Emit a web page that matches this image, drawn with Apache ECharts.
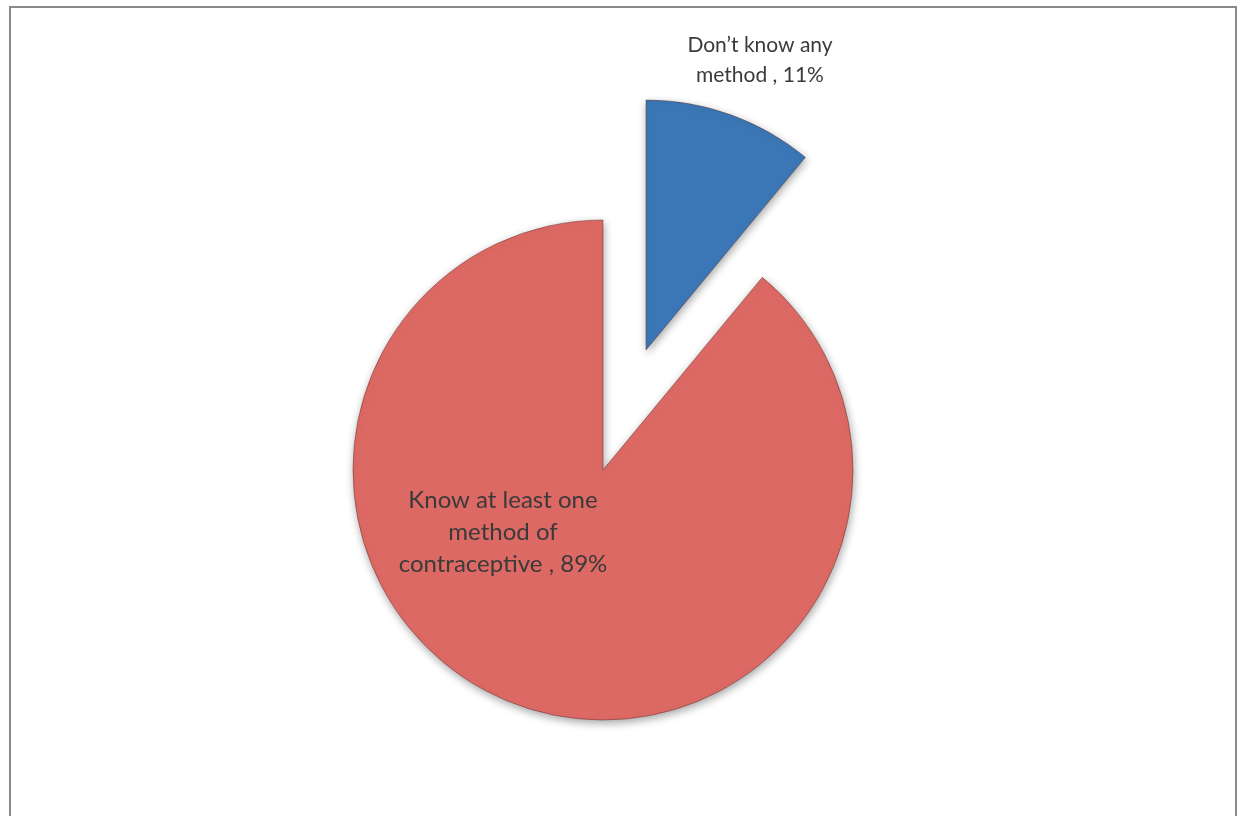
<!DOCTYPE html>
<html>
<head>
<meta charset="utf-8">
<script src="https://cdn.jsdelivr.net/npm/echarts@6/dist/echarts.min.js"></script>
<style>
html,body{margin:0;padding:0;background:#fff;}
#chart{width:1238px;height:816px;}
</style>
</head>
<body>
<div id="chart"></div>
<script>
const categories = ["Don\u2019t know any\nmethod", "Know at least one\nmethod of\ncontraceptive"];
const values = [11, 89];
const colors = ["#3b77b6", "#dd6964"];

const chart = echarts.init(document.getElementById('chart'), null, {renderer: 'canvas'});

// each slice drawn in its own series so the exploded slice has its own centre
const sliceCenters = [[646, 350], [603, 470]];
const labelPos = [[760, 60], [503, 532]];
const labelFont = [21, 24];
const labelLH = [30, 32];

function makeSeries(k) {
  return {
    type: 'pie',
    center: sliceCenters[k],
    radius: [0, 250],
    startAngle: 90,
    clockwise: true,
    silent: true,
    emphasis: {disabled: true},
    label: {
      show: true,
      position: 'inside',
      formatter: function (p) { return p.name + ' , ' + p.value + '%'; },
      fontFamily: 'Lato, "Open Sans", sans-serif',
      fontSize: labelFont[k],
      lineHeight: labelLH[k],
      color: '#3a3a3a',
      align: 'center',
      verticalAlign: 'middle'
    },
    labelLine: {show: false},
    labelLayout: function () {
      return {x: labelPos[k][0], y: labelPos[k][1], align: 'center', verticalAlign: 'middle', hideOverlap: false, moveOverlap: false};
    },
    data: categories.map(function (c, i) {
      const own = i === k;
      return {
        name: c,
        value: values[i],
        itemStyle: own ? {
          color: colors[i],
          borderColor: 'rgba(90,40,40,0.45)',
          borderWidth: 1,
          shadowBlur: 8,
          shadowColor: 'rgba(0,0,0,0.35)',
          shadowOffsetX: 1,
          shadowOffsetY: 3
        } : {color: 'rgba(0,0,0,0)', borderWidth: 0},
        label: {show: own}
      };
    })
  };
}

chart.setOption({
  animation: false,
  backgroundColor: '#ffffff',
  graphic: [{
    type: 'rect',
    shape: {x: 10, y: 7, width: 1226, height: 830},
    style: {fill: 'none', stroke: '#8a8a8a', lineWidth: 2},
    silent: true
  }],
  series: [makeSeries(1), makeSeries(0)]
});
</script>
</body>
</html>
